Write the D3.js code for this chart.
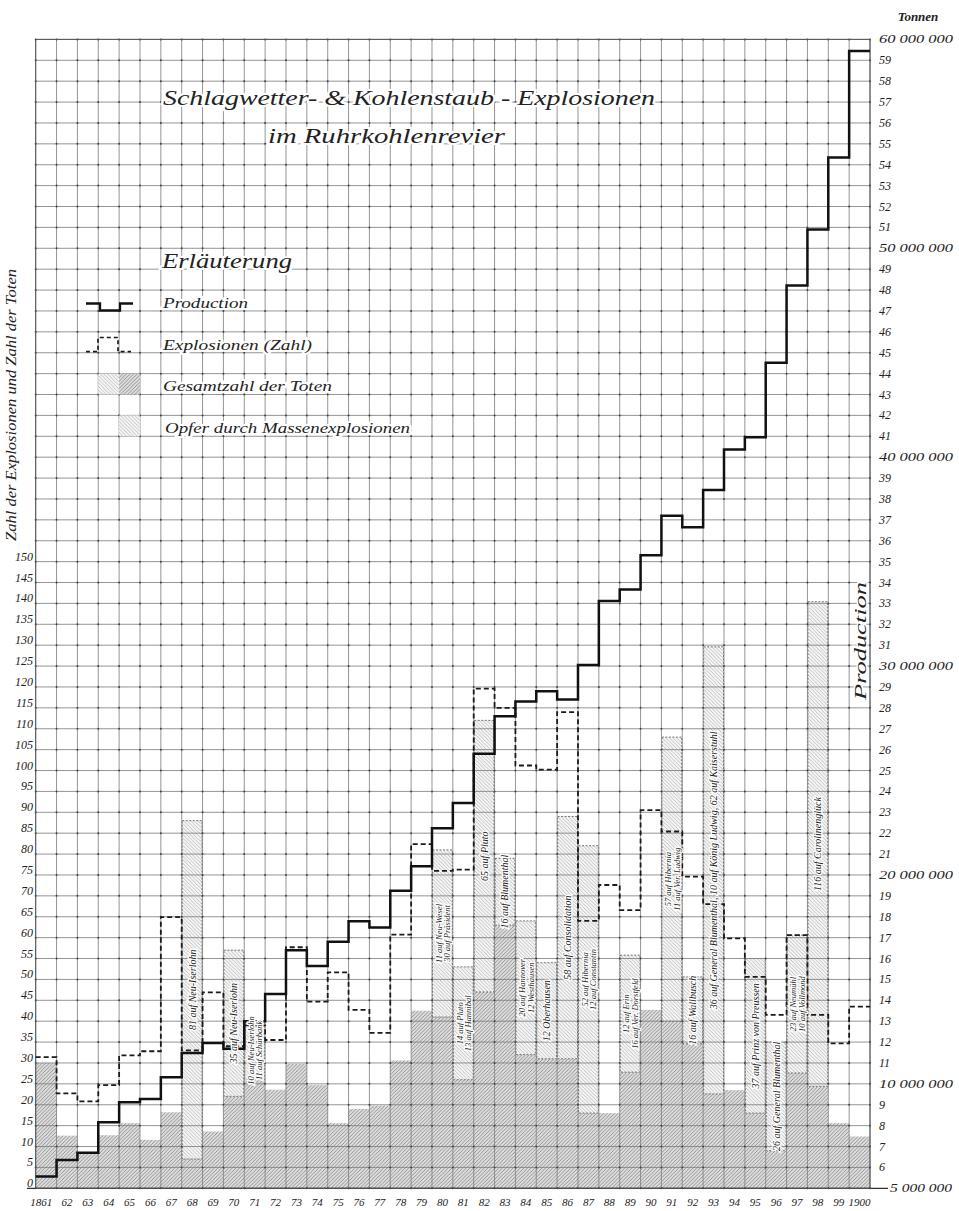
<!DOCTYPE html>
<html><head><meta charset="utf-8">
<script src="https://cdn.jsdelivr.net/npm/d3@7"></script>
<style>body{margin:0;background:#fff}svg{display:block}text{font-family:"Liberation Serif","DejaVu Serif",serif;font-style:italic;fill:#222}</style>
</head><body>
<script>
// ---------- DATA ----------
const years = d3.range(1861, 1901);
const yearLabels = ["1861","62","63","64","65","66","67","68","69","70","71","72","73","74","75","76","77","78","79","80",
  "81","82","83","84","85","86","87","88","89","90","91","92","93","94","95","96","97","98","99","1900"];
// coal production, million tonnes (right scale)
const production = [5.56,6.36,6.70,8.16,9.12,9.28,10.32,11.48,11.96,11.68,13.0,14.3,16.4,15.64,16.8,17.78,17.48,19.24,20.42,22.24,
  23.44,25.8,27.6,28.3,28.8,28.4,30.05,33.11,33.67,35.3,37.2,36.64,38.43,40.37,40.95,44.52,48.22,50.9,54.35,59.44];
// number of explosions (left scale)
const explosions = [31.4,22.7,20.8,24.7,31.8,32.8,64.9,33,46.9,34,39,35.5,57.7,44.7,51.7,42.7,37.2,60.7,82.4,76,
  76.3,119.6,115,101.2,100.2,114,64,72.6,66.6,90.5,85.4,74.6,68,59.8,50.6,41.5,60.6,41.5,34.7,43.5];
// total number of dead (left scale)
const deathsTotal = [30,12.6,8.5,12.7,15.6,11.6,18.2,88,13.6,57,40,23.6,29.8,24.7,15.6,19,19.8,30.6,42.5,81,
  53,112,79,64,54,89,82,18,55.8,42.7,108,50.6,129.6,23.5,55,35,60.6,140.4,15.6,12.4];
// victims of mass explosions (part of total)
const massVictims = [0,0,0,0,0,0,0,81,0,35,14,0,0,0,0,0,0,0,0,40,
  27,65,16,32,23,58,64,0,28,0,68,16,107,0,37,26,33,116,0,0];
const massLabels = [[],[],[],[],[],[],[],["81 auf Neu-Iserlohn"],[],["35 auf Neu-Iserlohn"],["10 auf Neu-Iserlohn","11 auf Schürbank"],[],[],[],[],[],[],[],[],["11 auf Neu-Wesel","30 auf Präsident"],
  ["14 auf Pluto","13 auf Hannibal"],["65 auf Pluto"],["16 auf Blumenthal"],["20 auf Hannover","12 Westhausen"],["12 Oberhausen"],["58 auf Consolidation"],["52 auf Hibernia","12 auf Constantin"],[],["12 auf Erin","16 auf Ver. Dorstfeld"],[],
  ["57 auf Hibernia","11 auf Ver. Ludwig"],["16 auf Wallbusch"],["36 auf General Blumenthal, 10 auf König Ludwig, 62 auf Kaiserstuhl"],[],["37 auf Prinz von Preussen"],["26 auf General Blumenthal"],["23 auf Neumühl","10 auf Vollmond"],["116 auf Carolinenglück"],[],[]];
const leftTicks = d3.range(0, 151, 5);
const rightTicks = d3.range(5, 61, 1);

// ---------- LAYOUT ----------
const W = 959, H = 1211;
const L = 35.7, R = 870, T = 39.4, B = 1188.3;
const svg = d3.select("body").append("svg").attr("width", W).attr("height", H);
const x = d3.scaleBand().domain(years).range([L, R]).padding(0);
const yL = d3.scaleLinear().domain([0, 275]).range([B, T]);
const yR = d3.scaleLinear().domain([5, 60]).range([B, T]);

const defs = svg.append("defs");
const pd = defs.append("pattern").attr("id","hDark").attr("patternUnits","userSpaceOnUse").attr("width",3.6).attr("height",3.6);
pd.append("rect").attr("width",3.6).attr("height",3.6).attr("fill","#dedede");
pd.append("path").attr("d","M0,3.6L3.6,0M-1,1L1,-1M2.6,4.6L4.6,2.6").attr("stroke","#777").attr("stroke-width",0.75);
const pl = defs.append("pattern").attr("id","hLight").attr("patternUnits","userSpaceOnUse").attr("width",3.6).attr("height",3.6);
pl.append("rect").attr("width",3.6).attr("height",3.6).attr("fill","#f6f6f6");
pl.append("path").attr("d","M0,0L3.6,3.6M-1,2.6L1,4.6M2.6,-1L4.6,1").attr("stroke","#a4a4a4").attr("stroke-width",0.65);

// ---------- BARS ----------
const bars = svg.append("g");
years.forEach((yr, i) => {
  const base = deathsTotal[i] - massVictims[i];
  bars.append("rect").attr("x", x(yr)).attr("width", x.bandwidth())
    .attr("y", yL(base)).attr("height", yL(0) - yL(base)).attr("fill", "url(#hDark)");
  if (massVictims[i] > 0) {
    bars.append("rect").attr("x", x(yr) + 0.5).attr("width", x.bandwidth() - 1)
      .attr("y", yL(deathsTotal[i])).attr("height", yL(base) - yL(deathsTotal[i]))
      .attr("fill", "url(#hLight)").attr("stroke", "#555").attr("stroke-width", 0.8).attr("stroke-dasharray", "2,1.5");
  }
});

// ---------- GRID ----------
const grid = svg.append("g");
const vx = years.map(y => x(y)).concat([R]);
vx.forEach(xx => grid.append("line").attr("x1", xx).attr("x2", xx).attr("y1", T).attr("y2", B).attr("stroke", "#7a7a7a").attr("stroke-width", 0.8));
rightTicks.forEach(t => grid.append("line").attr("x1", L).attr("x2", R).attr("y1", yR(t)).attr("y2", yR(t)).attr("stroke", "#7a7a7a").attr("stroke-width", 0.8));
const dots = [];
vx.forEach(xx => rightTicks.forEach(t => dots.push([xx, yR(t)])));
grid.selectAll("circle").data(dots).join("circle").attr("cx", d => d[0]).attr("cy", d => d[1]).attr("r", 1.0).attr("fill", "#444");
svg.append("line").attr("x1", 27).attr("x2", 888).attr("y1", B).attr("y2", B).attr("stroke", "#333").attr("stroke-width", 1.3);
svg.append("rect").attr("x", L).attr("y", T).attr("width", R - L).attr("height", B - T).attr("fill", "none").attr("stroke", "#555").attr("stroke-width", 1);

// ---------- STEP LINES ----------
function stepPts(vals, scale) {
  const pts = [];
  years.forEach((yr, i) => { pts.push([x(yr), scale(vals[i])]); pts.push([x(yr) + x.bandwidth(), scale(vals[i])]); });
  return pts;
}
const line = d3.line();
svg.append("path").attr("d", line(stepPts(explosions, yL))).attr("fill", "none")
  .attr("stroke", "#1a1a1a").attr("stroke-width", 1.8).attr("stroke-dasharray", "5,3");
svg.append("path").attr("d", line(stepPts(production, yR))).attr("fill", "none")
  .attr("stroke", "#111").attr("stroke-width", 2.5);

// ---------- MASS LABELS ----------
const lab = svg.append("g");
years.forEach((yr, i) => {
  const ls = massLabels[i];
  if (!ls.length) return;
  const base = deathsTotal[i] - massVictims[i];
  const cy = (yL(base) + yL(deathsTotal[i])) / 2;
  const n = ls.length;
  ls.forEach((s, k) => {
    const cx = x(yr) + x.bandwidth() / 2 + (k - (n - 1) / 2) * 8.5 + 3.5;
    lab.append("text").attr("transform", `translate(${cx},${cy}) rotate(-90)`).attr("text-anchor", "middle")
      .attr("font-size", n > 1 ? 8.5 : 10).attr("stroke", "#fff").attr("stroke-width", 2.5).attr("paint-order", "stroke")
      .text(s);
  });
});

// ---------- AXES TEXT ----------
const ax = svg.append("g");
leftTicks.forEach(t => ax.append("text").attr("x", 33).attr("y", yL(t) - 1).attr("text-anchor", "end").attr("font-size", 12).text(t));
const fmtR = v => (v % 10 === 0 || v === 5) ? (v + " 000 000") : String(v);
rightTicks.forEach(t => {
  const tx = ax.append("text").attr("x", 879).attr("y", yR(t) + 4).attr("font-size", 12).text(fmtR(t));
  if (t % 10 === 0) tx.attr("textLength", 74).attr("lengthAdjust", "spacingAndGlyphs");
  if (t === 5) tx.attr("x", 890).attr("textLength", 62).attr("lengthAdjust", "spacingAndGlyphs");
});
years.forEach((yr, i) => ax.append("text").attr("x", x(yr) + x.bandwidth() / 2 - (i === 0 ? 5 : 0)).attr("y", 1206)
  .attr("text-anchor", "middle").attr("font-size", 11).text(yearLabels[i]));
ax.append("text").attr("x", 918).attr("y", 21).attr("text-anchor", "middle").attr("font-size", 13).attr("font-weight", "bold").text("Tonnen");
ax.append("text").attr("transform", "translate(16,405) rotate(-90)").attr("text-anchor", "middle").attr("font-size", 14)
  .attr("textLength", 272).attr("lengthAdjust", "spacingAndGlyphs").text("Zahl der Explosionen und Zahl der Toten");
ax.append("text").attr("transform", "translate(866,641) rotate(-90)").attr("text-anchor", "middle").attr("font-size", 16)
  .attr("textLength", 118).attr("lengthAdjust", "spacingAndGlyphs").attr("stroke", "#fff").attr("stroke-width", 3).attr("paint-order", "stroke").text("Production");

// ---------- TITLE ----------
function halo(sel) { return sel.attr("stroke", "#fff").attr("stroke-width", 4).attr("paint-order", "stroke"); }
halo(svg.append("text").attr("x", 163).attr("y", 105).attr("font-size", 22).attr("textLength", 492).attr("lengthAdjust", "spacingAndGlyphs").text("Schlagwetter- & Kohlenstaub - Explosionen"));
halo(svg.append("text").attr("x", 268).attr("y", 143).attr("font-size", 20).attr("textLength", 237).attr("lengthAdjust", "spacingAndGlyphs").text("im Ruhrkohlenrevier"));

// ---------- LEGEND ----------
halo(svg.append("text").attr("x", 162).attr("y", 268).attr("font-size", 20).attr("textLength", 130).attr("lengthAdjust", "spacingAndGlyphs").text("Erläuterung"));
const legItems = ["Production", "Explosionen (Zahl)", "Gesamtzahl der Toten", "Opfer durch Massenexplosionen"];
const legLen = [85, 149, 169, 245];
const legY = [308, 350, 391, 433];
legItems.forEach((s, k) => halo(svg.append("text").attr("x", k === 3 ? 165 : 163).attr("y", legY[k]).attr("font-size", 14)
  .attr("textLength", legLen[k]).attr("lengthAdjust", "spacingAndGlyphs").text(s)));
svg.append("path").attr("d", line([[86,303.5],[100,303.5],[100,310.5],[120,310.5],[120,303.5],[133,303.5]])).attr("fill","none").attr("stroke","#111").attr("stroke-width",2.3);
svg.append("path").attr("d", line([[86,351.7],[98,351.7],[98,337.5],[118,337.5],[118,351.7],[131,351.7]])).attr("fill","none").attr("stroke","#1a1a1a").attr("stroke-width",1.7).attr("stroke-dasharray","4,3");
const cw = x.bandwidth();
svg.append("rect").attr("x", x(1864)).attr("y", yR(44)).attr("width", cw).attr("height", yR(43) - yR(44)).attr("fill", "url(#hLight)");
svg.append("rect").attr("x", x(1865)).attr("y", yR(44)).attr("width", cw).attr("height", yR(43) - yR(44)).attr("fill", "url(#hDark)");
svg.append("rect").attr("x", x(1865)).attr("y", yR(42)).attr("width", cw).attr("height", yR(41) - yR(42)).attr("fill", "url(#hLight)");
</script>
</body></html>
